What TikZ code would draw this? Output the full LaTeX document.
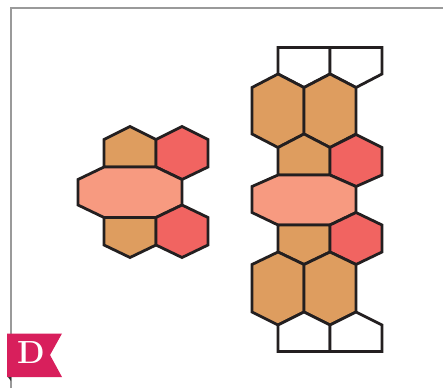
\documentclass[tikz,border=0pt]{standalone}
\usepackage{tikz}
\definecolor{tileorange}{HTML}{DE9D5F}
\definecolor{tilered}{HTML}{F16461}
\definecolor{tilesalmon}{HTML}{F79A80}
\definecolor{tileline}{HTML}{231F20}
\definecolor{framegray}{HTML}{9A9A9A}
\definecolor{badgered}{HTML}{D81F5C}
\tikzset{
  tile/.style={draw=tileline, line width=2.8pt},
  orangetile/.style={tile, fill=tileorange},
  redtile/.style={tile, fill=tilered},
  bigtile/.style={tile, fill=tilesalmon},
  blanktile/.style={tile, fill=white},
  badgetext/.style={text=white, inner sep=0pt, font=\fontsize{32}{32}\selectfont\bfseries}
}
\begin{document}
\begin{tikzpicture}[x=1pt,y=-1pt]
\useasboundingbox (0,0) rectangle (443,388);

% Frame
\draw[framegray, line width=1.2pt] (11,388) -- (11,8) -- (443,8);

% Left cluster
\draw[orangetile] (104,139.5) -- (130,126.5) -- (156,139.5) -- (156,167) -- (104,167) -- cycle;
\draw[redtile] (156,139.5) -- (182,126.5) -- (208,139.5) -- (208,167) -- (182,179.5) -- (156,167) -- cycle;
\draw[bigtile] (78,179.5) -- (104,167) -- (156,167) -- (182,179.5) -- (182,205) -- (156,217.5) -- (104,217.5) -- (78,205) -- cycle;
\draw[orangetile] (104,217.5) -- (156,217.5) -- (156,245) -- (130,257.5) -- (104,245) -- cycle;
\draw[redtile] (156,217.5) -- (182,205) -- (208,217.5) -- (208,245) -- (182,257.5) -- (156,245) -- cycle;

% Right cluster, top half
\draw[blanktile] (278,47.5) -- (330,47.5) -- (330,74) -- (304,87.5) -- (278,74) -- cycle;
\draw[blanktile] (330,47.5) -- (382,47.5) -- (382,74) -- (356,87.5) -- (330,74) -- cycle;
\draw[orangetile] (278,74) -- (304,87.5) -- (304,134) -- (278,147.5) -- (252,134) -- (252,87.5) -- cycle;
\draw[orangetile] (330,74) -- (356,87.5) -- (356,134) -- (330,147.5) -- (304,134) -- (304,87.5) -- cycle;
\draw[orangetile] (278,147.5) -- (304,134) -- (330,147.5) -- (330,175) -- (278,175) -- cycle;
\draw[redtile] (330,147.5) -- (356,134.5) -- (382,147.5) -- (382,175) -- (356,186.5) -- (330,175) -- cycle;

% Right cluster, middle
\draw[bigtile] (252,186.5) -- (278,175) -- (330,175) -- (356,186.5) -- (356,212.5) -- (330,225) -- (278,225) -- (252,212.5) -- cycle;

% Right cluster, bottom half
\draw[orangetile] (278,225) -- (330,225) -- (330,252) -- (304,264.5) -- (278,252) -- cycle;
\draw[redtile] (330,225) -- (356,212.5) -- (382,225) -- (382,252) -- (356,264.5) -- (330,252) -- cycle;
\draw[orangetile] (278,252) -- (304,264.5) -- (304,312) -- (278,325) -- (252,312) -- (252,264.5) -- cycle;
\draw[orangetile] (330,252) -- (356,264.5) -- (356,312) -- (330,325) -- (304,312) -- (304,264.5) -- cycle;
\draw[blanktile] (278,325) -- (304,312) -- (330,325) -- (330,351.5) -- (278,351.5) -- cycle;
\draw[blanktile] (330,325) -- (356,312) -- (382,325) -- (382,351.5) -- (330,351.5) -- cycle;

% Badge
\fill[badgered] (7,333.5) -- (62,333.5) -- (50,355) -- (62,377) -- (7,377) -- cycle;
\fill[black!80] (8,377) -- (11,377) -- (11,381) -- cycle;
\node[badgetext] (badge) at (31,353) {D};

\end{tikzpicture}
\end{document}
